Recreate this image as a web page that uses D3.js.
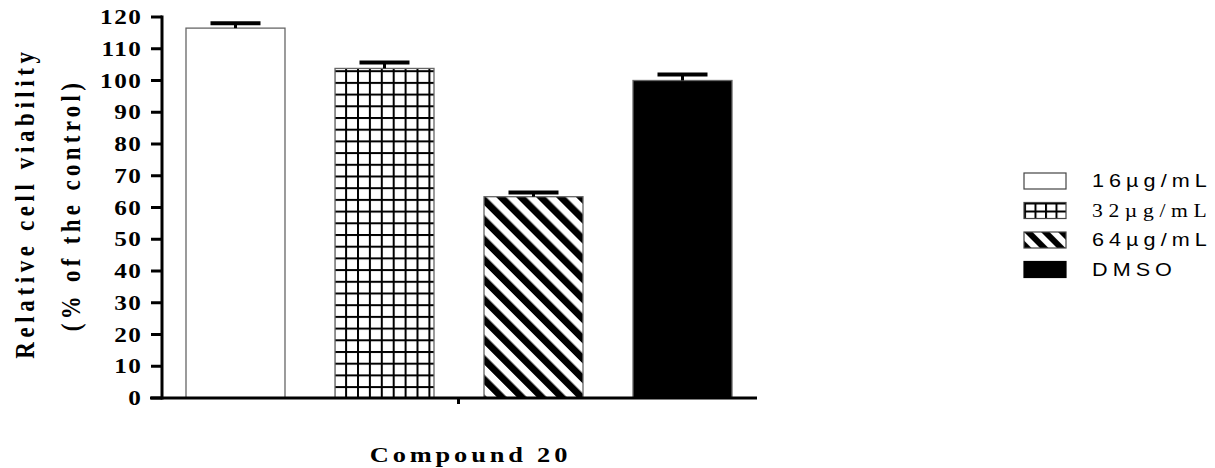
<!DOCTYPE html>
<html>
<head>
<meta charset="utf-8">
<script src="https://cdn.jsdelivr.net/npm/d3@7"></script>
<style>
  body { margin: 0; background: #fff; }
  svg { display: block; }
</style>
</head>
<body>
<svg id="chart" width="1215" height="468"></svg>
<script>
// data
var groups = ['16µg/mL', '32µg/mL', '64µg/mL', 'DMSO'];
var values = [116.5, 103.8, 63.4, 100.0];
var errors = [1.5, 1.9, 1.3, 1.9];
var yTicks = [0, 10, 20, 30, 40, 50, 60, 70, 80, 90, 100, 110, 120];

var svg = d3.select('#chart');
var serif = '"Liberation Serif", "Times New Roman", serif',
    sans = '"Liberation Sans", Arial, sans-serif';

// the original figure is stretched sideways, text included
var stretch = 1.2;

var axisX = 162, baseY = 398, topY = 17;

var y = d3.scaleLinear().domain([0, 120]).range([baseY, topY]);
var x = d3.scaleBand().domain(groups).range([186, 732]).paddingInner(0.3356).paddingOuter(0);

// patterns
var defs = svg.append('defs');

function gridPattern(id, w, h) {
    var p = defs.append('pattern').attr('id', id)
        .attr('patternUnits', 'userSpaceOnUse')
        .attr('width', w).attr('height', h);
    p.append('rect').attr('width', w).attr('height', h).attr('fill', '#fff');
    p.append('rect').attr('x', 0).attr('y', 0).attr('width', 2).attr('height', h).attr('fill', '#000');
    p.append('rect').attr('x', 0).attr('y', 0).attr('width', w).attr('height', 2).attr('fill', '#000');
}
function stripePattern(id, gap, thick) {
    var p = defs.append('pattern').attr('id', id)
        .attr('patternUnits', 'userSpaceOnUse')
        .attr('width', gap).attr('height', gap)
        .attr('patternTransform', 'rotate(-45)');
    p.append('rect').attr('width', gap).attr('height', gap).attr('fill', '#fff');
    p.append('rect').attr('x', 0).attr('y', 0).attr('width', thick).attr('height', gap).attr('fill', '#000');
}
gridPattern('grid', 11.9, 11.7);
gridPattern('gridLegend', 10.5, 8);
stripePattern('stripes', 14.1, 7);
stripePattern('stripesLegend', 12, 6);

var fills = ['#fff', 'url(#grid)', 'url(#stripes)', '#000'];
var legendFills = ['#fff', 'url(#gridLegend)', 'url(#stripesLegend)', '#000'];

// bars
var bars = svg.append('g').selectAll('g')
    .data(groups)
    .enter()
        .append('g');

bars.append('rect')
    .attr('x', function(d) { return x(d); })
    .attr('width', x.bandwidth())
    .attr('y', function(d, i) { return y(values[i]); })
    .attr('height', function(d, i) { return baseY - y(values[i]); })
    .attr('fill', function(d, i) { return fills[i]; })
    .attr('stroke', '#666')
    .attr('stroke-width', 1.3);

// error bars (upper half only)
bars.append('line')
    .attr('x1', function(d) { return x(d) + x.bandwidth() / 2; })
    .attr('x2', function(d) { return x(d) + x.bandwidth() / 2; })
    .attr('y1', function(d, i) { return y(values[i]); })
    .attr('y2', function(d, i) { return y(values[i] + errors[i]); })
    .attr('stroke', '#000')
    .attr('stroke-width', 3);

bars.append('line')
    .attr('x1', function(d) { return x(d) + x.bandwidth() / 2 - 25; })
    .attr('x2', function(d) { return x(d) + x.bandwidth() / 2 + 25; })
    .attr('y1', function(d, i) { return y(values[i] + errors[i]); })
    .attr('y2', function(d, i) { return y(values[i] + errors[i]); })
    .attr('stroke', '#000')
    .attr('stroke-width', 4);

// y axis
var yAxis = svg.append('g');
yAxis.append('line')
    .attr('x1', axisX).attr('x2', axisX)
    .attr('y1', y(120) - 1.5).attr('y2', baseY + 1.5)
    .attr('stroke', '#000').attr('stroke-width', 3);

yAxis.selectAll('.tick')
    .data(yTicks)
    .enter()
        .append('line')
        .attr('class', 'tick')
        .attr('x1', 151).attr('x2', axisX)
        .attr('y1', function(d) { return y(d); })
        .attr('y2', function(d) { return y(d); })
        .attr('stroke', '#000').attr('stroke-width', 3);

yAxis.selectAll('text')
    .data(yTicks)
    .enter()
        .append('text')
        .attr('transform', function(d) { return 'translate(142.5,' + y(d) + ') scale(' + stretch + ',1)'; })
        .attr('dy', '0.34em')
        .attr('text-anchor', 'end')
        .attr('font-family', serif)
        .attr('font-weight', 'bold')
        .attr('font-size', 21)
        .attr('letter-spacing', 1.3)
        .text(function(d) { return d; });

// x axis
svg.append('line')
    .attr('x1', 150).attr('x2', 757)
    .attr('y1', baseY).attr('y2', baseY)
    .attr('stroke', '#000').attr('stroke-width', 3);

svg.append('line')
    .attr('x1', 458.5).attr('x2', 458.5)
    .attr('y1', baseY).attr('y2', baseY + 6)
    .attr('stroke', '#000').attr('stroke-width', 3);

svg.append('text')
    .attr('transform', 'translate(470.5,462) scale(' + stretch + ',1)')
    .attr('text-anchor', 'middle')
    .attr('font-family', serif)
    .attr('font-weight', 'bold')
    .attr('font-size', 22)
    .attr('letter-spacing', 3.2)
    .text('Compound 20');

// y title
var titleLines = ['Relative cell viability', '(% of the control)'];
svg.selectAll('.ytitle')
    .data(titleLines)
    .enter()
        .append('text')
        .attr('class', 'ytitle')
        .attr('transform', function(d, i) {
            return 'translate(' + (i == 0 ? 25 : 71) + ',' + (i == 0 ? 203 : 205) + ') rotate(-90) scale(1,' + stretch + ')';
        })
        .attr('dy', '0.34em')
        .attr('text-anchor', 'middle')
        .attr('font-family', serif)
        .attr('font-weight', 'bold')
        .attr('font-size', 23)
        .attr('letter-spacing', function(d, i) { return i == 0 ? 4.6 : 4.3; })
        .text(function(d) { return d; });

// legend
var legend = svg.append('g').selectAll('g')
    .data(groups)
    .enter()
        .append('g')
        .attr('transform', function(d, i) { return 'translate(1024,' + (173 + i * 29.5) + ')'; });

legend.append('rect')
    .attr('width', 42).attr('height', 16)
    .attr('fill', function(d, i) { return legendFills[i]; })
    .attr('stroke', function(d, i) { return i == 3 ? '#000' : '#444'; })
    .attr('stroke-width', 1.2);

legend.append('text')
    .attr('transform', 'translate(68,8) scale(' + stretch + ',1)')
    .attr('dy', '0.36em')
    .attr('font-family', function(d, i) { return i == 1 ? serif : sans; })
    .attr('font-size', 18)
    .attr('letter-spacing', function(d, i) { return i == 1 ? 4.7 : 4.2; })
    .text(function(d) { return d; });
</script>
</body>
</html>
